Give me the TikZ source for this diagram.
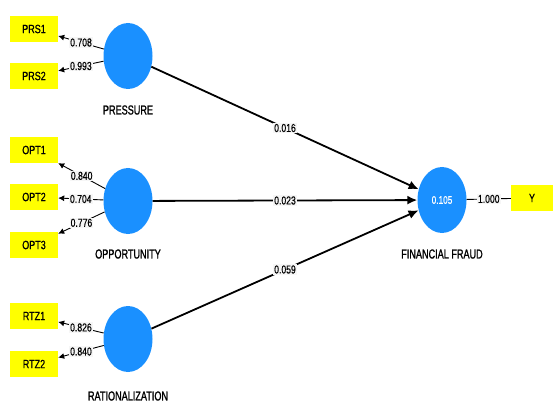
\documentclass[tikz,border=0pt]{standalone}
\usepackage{fontspec}
\setmainfont{Liberation Sans}
\newfontfamily\narrowfont{Liberation Sans}[FakeStretch=0.75, FakeBold=0.6]
\newfontfamily\namefont{Liberation Sans}[FakeStretch=0.7, FakeBold=1.2]
\usetikzlibrary{arrows.meta, positioning, shapes.geometric}
\definecolor{PLSblue}{HTML}{1A90FF}
\definecolor{PLSyellow}{HTML}{FFFF00}
\definecolor{PLSlabel}{HTML}{F6F6F6}

\begin{document}
\begin{tikzpicture}[x=1pt, y=-1pt,
      latent/.style={ellipse, fill=PLSblue, minimum width=49pt, minimum height=66pt, inner sep=0pt, text=white, font=\narrowfont\fontsize{11}{13}\selectfont},
      indicator/.style={rectangle, fill=PLSyellow, minimum width=48pt, minimum height=26pt, inner sep=0pt, font=\narrowfont\fontsize{12}{14}\selectfont},
      latname/.style={font=\namefont\fontsize{13}{15}\selectfont},
      weight/.style={fill=PLSlabel, inner sep=1pt, font=\narrowfont\fontsize{11.5}{13}\selectfont},
      loading/.style={-{Latex[length=6pt, width=6pt]}, line width=0.9pt},
      structural/.style={-{Latex[length=10pt, width=9pt]}, line width=1.8pt}]

      \useasboundingbox (0,0) rectangle (553,403);

      % Latent variables
      \node[latent] (prs) at (128,56) {};
      \node[latent] (opt) at (128,201) {};
      \node[latent] (rtz) at (128,339) {};
      \node[latent] (ff) at (442,200) {0.105};

      % Names of the latent variables
      \node[latname] (prsname) at (128,110) {PRESSURE};
      \node[latname] (optname) at (128,254) {OPPORTUNITY};
      \node[latname] (rtzname) at (128,396) {RATIONALIZATION};
      \node[latname] (ffname) at (442,254) {FINANCIAL FRAUD};

      % Indicators
      \node[indicator] (prs1) at (34,29) {PRS1};
      \node[indicator] (prs2) at (34,76) {PRS2};
      \node[indicator] (opt1) at (34,150) {OPT1};
      \node[indicator] (opt2) at (34,197) {OPT2};
      \node[indicator] (opt3) at (34,245) {OPT3};
      \node[indicator] (rtz1) at (34,316) {RTZ1};
      \node[indicator] (rtz2) at (34,364) {RTZ2};
      \node[indicator, minimum width=42pt] (y) at (532,198) {Y};

      % Outer loadings
      \draw[loading] (prs) -- node[weight] {0.708} (prs1);
      \draw[loading] (prs) -- node[weight] {0.993} (prs2);
      \draw[loading] (opt) -- node[weight] {0.840} (opt1);
      \draw[loading] (opt) -- node[weight] {0.704} (opt2);
      \draw[loading] (opt) -- node[weight] {0.776} (opt3);
      \draw[loading] (rtz) -- node[weight] {0.826} (rtz1);
      \draw[loading] (rtz) -- node[weight] {0.840} (rtz2);
      \draw[line width=0.9pt] (ff) -- node[weight] {1.000} (y);

      % Path coefficients
      \draw[structural] (prs) -- node[weight] {0.016} (ff);
      \draw[structural] (opt) -- node[weight] {0.023} (ff);
      \draw[structural] (rtz) -- node[weight] {0.059} (ff);
   \end{tikzpicture}
\end{document}
